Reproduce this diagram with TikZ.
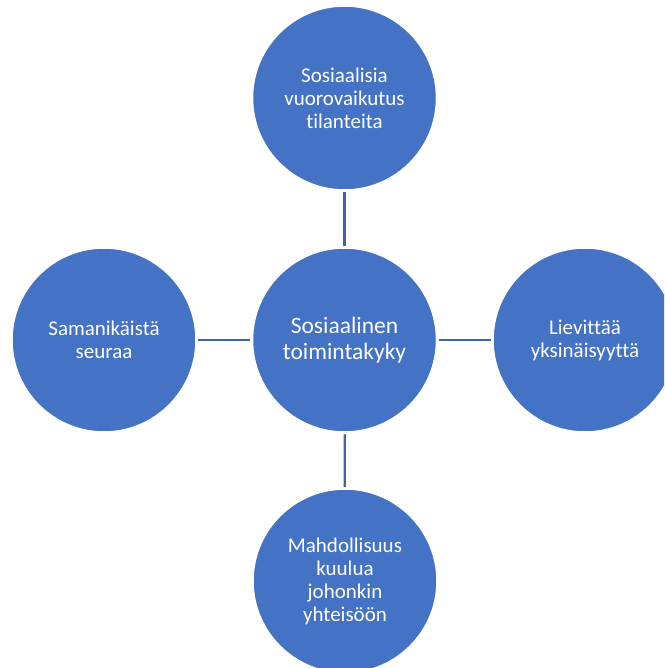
\documentclass[tikz,border=0pt]{standalone}
\usepackage{fontspec}
\setmainfont[Ligatures={NoCommon,NoRequired,NoContextual}]{Carlito}
\definecolor{circblue}{HTML}{4472C4}
\definecolor{linkblue}{HTML}{3B64AD}
\begin{document}
\begin{tikzpicture}[x=1pt,y=-1pt,
  bubble/.style={circle,fill=circblue,draw=white,line width=1.5pt,minimum size=184pt,inner sep=0pt,
    text=white,align=center,font=\fontsize{21}{23}\selectfont},
  hub/.style={bubble,font=\fontsize{23.5}{25.5}\selectfont},
  link/.style={draw=linkblue,line width=2.2pt,shorten >=1.5pt,shorten <=1.5pt}]
\useasboundingbox (0,0) rectangle (664,668);
\begin{scope}
\clip (0,0) rectangle (664,668);
\node[hub] (c) at (344.5,340) {Sosiaalinen\\toimintakyky};
\node[bubble] (t) at (344.5,98) {Sosiaalisia\\vuorovaikutus\\tilanteita};
\node[bubble] (l) at (104,340) {Samanikäistä\\seuraa};
\node[bubble] (r) at (585,340) {Lievittää\\yksinäisyyttä};
\node[bubble] (b) at (345,581) {Mahdollisuus\\kuulua\\johonkin\\yhteisöön};
\draw[link] (t) -- (c);
\draw[link] (l) -- (c);
\draw[link] (c) -- (r);
\draw[link] (c) -- (b);
\end{scope}
\end{tikzpicture}
\end{document}
